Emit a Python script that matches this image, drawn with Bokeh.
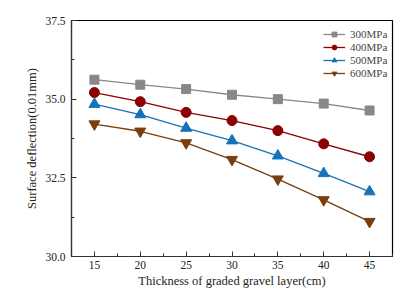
from bokeh.plotting import figure
from bokeh.models import FixedTicker, PrintfTickFormatter, Legend, LegendItem, Range1d
from bokeh.embed import file_html
from bokeh.resources import INLINE

thickness = [15, 20, 25, 30, 35, 40, 45]
s300 = [35.62, 35.46, 35.32, 35.14, 35.00, 34.86, 34.64]
s400 = [35.21, 34.92, 34.58, 34.32, 34.00, 33.58, 33.17]
s500 = [34.84, 34.51, 34.08, 33.68, 33.20, 32.64, 32.06]
s600 = [34.21, 33.98, 33.61, 33.08, 32.46, 31.80, 31.11]
labels = ["300MPa", "400MPa", "500MPa", "600MPa"]
x_ticks = [15, 20, 25, 30, 35, 40, 45]
y_ticks = [30.0, 32.5, 35.0, 37.5]

FONT = "Liberation Serif"

p = figure(width=406, height=291, output_backend="svg", toolbar_location=None,
           x_range=Range1d(12.5, 47.5), y_range=Range1d(30.0, 37.5),
           min_border_left=71, min_border_right=14, min_border_top=20, min_border_bottom=35)
p.grid.visible = False
p.outline_line_color = "black"
p.outline_line_width = 1.2

colors = ["#888888", "#8B0000", "#1673B8", "#7A3E0C"]
markers = ["square", "circle", "triangle", "inverted_triangle"]
sizes = [9, 10, 11, 11]
series = [s300, s400, s500, s600]
items = []
for lab, ys, c, m, s in zip(labels, series, colors, markers, sizes):
    r1 = p.line(thickness, ys, line_color=c, line_width=1.3)
    r2 = p.scatter(thickness, ys, marker=m, size=s, fill_color=c, line_color=c)
    items.append(LegendItem(label=lab, renderers=[r1, r2]))

legend = Legend(items=items, border_line_color=None,
                background_fill_alpha=0, label_text_font=FONT, label_text_font_size="11px",
                glyph_width=22, glyph_height=12, label_height=12, spacing=1,
                padding=0, margin=0, label_standoff=5)
legend.location = (252, 177)
p.add_layout(legend)

p.xaxis.ticker = FixedTicker(ticks=x_ticks, minor_ticks=[12.5, 17.5, 22.5, 27.5, 32.5, 37.5, 42.5, 47.5])
p.yaxis.ticker = FixedTicker(ticks=y_ticks, minor_ticks=[31.25, 33.75, 36.25])
p.yaxis.formatter = PrintfTickFormatter(format="%.1f")

for ax in [p.xaxis[0], p.yaxis[0]]:
    ax.major_tick_in = 5
    ax.major_tick_out = 0
    ax.minor_tick_in = 3
    ax.minor_tick_out = 0
    ax.axis_line_color = "#333333"
    ax.axis_line_width = 1.2
    ax.major_tick_line_color = "#333333"
    ax.minor_tick_line_color = "#333333"
    ax.major_label_text_font = FONT
    ax.major_label_text_font_size = "11.5px"
    ax.major_label_text_color = "#222222"
    ax.axis_label_text_font = FONT
    ax.axis_label_text_font_size = "12.5px"
    ax.axis_label_text_font_style = "normal"
    ax.axis_label_text_color = "#222222"

p.xaxis.axis_label = "Thickness of graded gravel layer(cm)"
p.yaxis.axis_label = "Surface deflection(0.01mm)"
p.xaxis.major_label_standoff = 4
p.xaxis.axis_label_standoff = 2
p.yaxis.major_label_standoff = 6
p.yaxis.axis_label_standoff = 3

open("out.html", "w").write(file_html(p, INLINE))
